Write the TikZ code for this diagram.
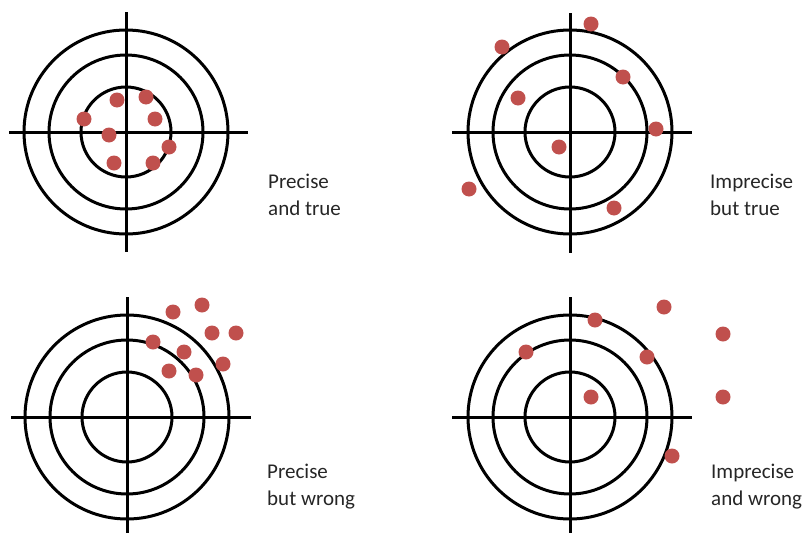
\documentclass[tikz,border=0pt]{standalone}
\usepackage{fontspec}
\setmainfont{Carlito}
\definecolor{dotred}{HTML}{C0504D}
\begin{document}
\begin{tikzpicture}[x=1pt,y=-1pt,
  ring/.style={draw=black,line width=3pt},
  cross/.style={draw=black,line width=3pt},
  shot/.style={circle,fill=dotred,draw=none,minimum size=15pt,inner sep=0pt},
  lbl/.style={anchor=base west,align=left,inner sep=0pt,font=\fontsize{21}{27}\selectfont,text=black!85}]
\useasboundingbox (0,0) rectangle (809,533);
% target 1
\coordinate (c1) at (126,132);
\foreach \r in {45,77,102} \draw[ring] (c1) circle (\r);
\coordinate (h1a) at (9,132); \coordinate (h1b) at (248,132);
\coordinate (v1a) at (126,12); \coordinate (v1b) at (126,252);
\draw[cross] (h1a) -- (h1b); \draw[cross] (v1a) -- (v1b);
\foreach \p [count=\i] in {(117,100),(146,97),(84,119),(155,119),(109,135),(169,147),(114,163),(153,163)}
  \node[shot] (a\i) at \p {};
\node[lbl] (t1) at (268,215) {Precise\\and true};
% target 2
\coordinate (c2) at (570,132);
\foreach \r in {45,77,102} \draw[ring] (c2) circle (\r);
\coordinate (h2a) at (452,132); \coordinate (h2b) at (692,132);
\coordinate (v2a) at (570,13); \coordinate (v2b) at (570,253);
\draw[cross] (h2a) -- (h2b); \draw[cross] (v2a) -- (v2b);
\foreach \p [count=\i] in {(591,24),(502,47),(623,77),(518,98),(656,129),(559,147),(469,189),(614,208)}
  \node[shot] (b\i) at \p {};
\node[lbl] (t2) at (710,215) {Imprecise\\but true};
% target 3
\coordinate (c3) at (127,417);
\foreach \r in {45,77,102} \draw[ring] (c3) circle (\r);
\coordinate (h3a) at (11,417); \coordinate (h3b) at (251,417);
\coordinate (v3a) at (127,297); \coordinate (v3b) at (127,533);
\draw[cross] (h3a) -- (h3b); \draw[cross] (v3a) -- (v3b);
\foreach \p [count=\i] in {(173,312),(202,305),(212,333),(236,333),(153,342),(184,352),(223,364),(169,371),(196,375)}
  \node[shot] (d\i) at \p {};
\node[lbl] (t3) at (267,505) {Precise\\but wrong};
% target 4
\coordinate (c4) at (570,417);
\foreach \r in {45,77,102} \draw[ring] (c4) circle (\r);
\coordinate (h4a) at (452,417); \coordinate (h4b) at (692,417);
\coordinate (v4a) at (570,297); \coordinate (v4b) at (570,533);
\draw[cross] (h4a) -- (h4b); \draw[cross] (v4a) -- (v4b);
\foreach \p [count=\i] in {(664,307),(595,320),(723,334),(526,352),(647,357),(591,397),(723,397),(672,456)}
  \node[shot] (e\i) at \p {};
\node[lbl] (t4) at (711,505) {Imprecise\\and wrong};
\end{tikzpicture}
\end{document}
